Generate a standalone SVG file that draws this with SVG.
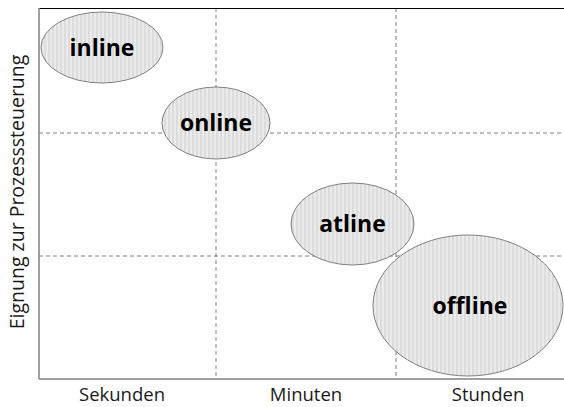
<svg xmlns="http://www.w3.org/2000/svg" width="564" height="407" viewBox="0 0 564 407">
<defs>
<pattern id="stripes" patternUnits="userSpaceOnUse" width="4" height="4">
<rect width="4" height="4" fill="#ebebeb"/>
<rect width="2" height="4" fill="#dcdcdc"/>
</pattern>
<style>
.grid{stroke:#808080;stroke-width:1;stroke-dasharray:4 3;fill:none}
.axis{stroke:#808080;stroke-width:1.5;fill:none}
.node ellipse{fill:url(#stripes);stroke:#808080;stroke-width:1}
.node text{font-family:"Open Sans","DejaVu Sans",sans-serif;font-weight:bold;font-size:23px;fill:#000;text-anchor:middle}
.lbl{font-family:"Open Sans","DejaVu Sans",sans-serif;font-size:18.5px;fill:#1a1a1a;text-anchor:middle}
</style>
</defs>
<rect width="564" height="407" fill="#fff"/>
<g id="grid">
<line class="grid" x1="216" y1="8" x2="216" y2="379"/>
<line class="grid" x1="396" y1="8" x2="396" y2="379"/>
<line class="grid" x1="39" y1="133" x2="564" y2="133"/>
<line class="grid" x1="39" y1="256" x2="564" y2="256"/>
</g>
<g id="axes">
<line x1="39" y1="8.5" x2="564" y2="8.5" stroke="#000" stroke-width="1.2"/>
<line class="axis" x1="39" y1="8" x2="39" y2="379"/>
<line class="axis" x1="39" y1="379" x2="564" y2="379"/>
</g>
<g id="node-inline" class="node">
<ellipse cx="102" cy="47.5" rx="61" ry="35.5"/>
<text x="102" y="55.5">inline</text>
</g>
<g id="node-online" class="node">
<ellipse cx="216" cy="123" rx="54" ry="36"/>
<text x="216" y="131">online</text>
</g>
<g id="node-atline" class="node">
<ellipse cx="352.5" cy="224" rx="61.5" ry="41"/>
<text x="352.5" y="232">atline</text>
</g>
<g id="node-offline" class="node">
<ellipse cx="468" cy="305.5" rx="95" ry="70.5"/>
<text x="470" y="313.5">offline</text>
</g>
<g id="labels">
<text class="lbl" x="122" y="401">Sekunden</text>
<text class="lbl" x="306" y="401">Minuten</text>
<text class="lbl" x="488" y="401">Stunden</text>
<text class="lbl" style="font-size:19.5px" transform="translate(24 192) rotate(-90)">Eignung zur Prozesssteuerung</text>
</g>
</svg>
